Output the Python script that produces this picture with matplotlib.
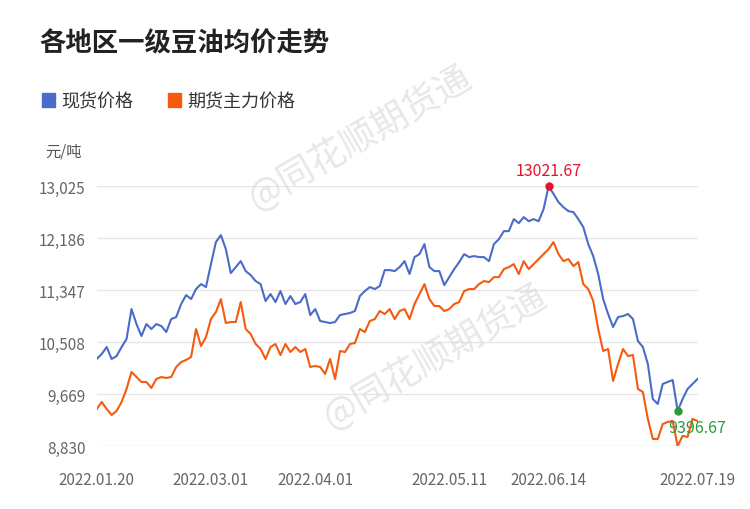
import matplotlib
matplotlib.use('Agg')
import matplotlib.pyplot as plt
import matplotlib.patches as mpatch

plt.rcParams['font.family'] = ['Noto Sans CJK SC', 'DejaVu Sans']

# 现货价格 (spot), one value per trading day
spot = [10235, 10315, 10428, 10235, 10283, 10428, 10557, 11041, 10799, 10606,
        10799, 10719, 10799, 10767, 10670, 10880, 10912, 11122, 11267, 11202,
        11364, 11444, 11396, 11767, 12122, 12235, 12009, 11622, 11718, 11815,
        11654, 11590, 11493, 11444, 11170, 11283, 11154, 11332, 11122, 11251,
        11122, 11154, 11283, 10944, 11041, 10848, 10832, 10815, 10832, 10944,
        10961, 10977, 11009, 11251, 11332, 11396, 11364, 11412, 11670, 11670,
        11654, 11718, 11815, 11606, 11880, 11928, 12090, 11718, 11654, 11654,
        11428, 11557, 11686, 11799, 11928, 11880, 11896, 11880, 11880, 11815,
        12090, 12170, 12299, 12299, 12493, 12428, 12525, 12460, 12493, 12460,
        12654, 13021.67, 12900, 12767, 12686, 12622, 12606, 12493, 12364, 12090,
        11896, 11606, 11202, 10961, 10751, 10912, 10928, 10961, 10880, 10525,
        10428, 10154, 9589, 9509, 9832, 9864, 9896, 9396.67, 9589, 9751,
        9832, 9912]
# 期货主力价格 (futures main contract)
futures = [9428, 9541, 9428, 9331, 9396, 9541, 9751, 10025, 9944, 9864,
           9864, 9767, 9912, 9944, 9928, 9944, 10106, 10186, 10219, 10267,
           10719, 10444, 10589, 10880, 10993, 11202, 10815, 10832, 10832, 11154,
           10719, 10638, 10477, 10396, 10235, 10428, 10477, 10299, 10477, 10348,
           10428, 10348, 10396, 10106, 10122, 10106, 9993, 10235, 9912, 10364,
           10348, 10477, 10493, 10719, 10670, 10848, 10880, 11009, 10961, 11041,
           10880, 11009, 11041, 10880, 11122, 11283, 11444, 11202, 11090, 11090,
           11009, 11041, 11122, 11154, 11332, 11364, 11364, 11444, 11493, 11477,
           11557, 11557, 11686, 11718, 11767, 11606, 11815, 11686, 11767, 11848,
           11928, 12009, 12122, 11928, 11815, 11848, 11734, 11799, 11444, 11364,
           11170, 10719, 10364, 10396, 9880, 10154, 10396, 10283, 10299, 9751,
           9702, 9267, 8944, 8944, 9186, 9218, 9235, 8831, 8993, 8977,
           9267, 9235]

tick_idx = [0, 23, 44, 71, 91, 121]
tick_labels = ['2022.01.20', '2022.03.01', '2022.04.01', '2022.05.11', '2022.06.14', '2022.07.19']
y_ticks = [8830, 9669, 10508, 11347, 12186, 13025]

BLUE = '#4a6cc8'
ORANGE = '#f45b0f'

fig = plt.figure(figsize=(7.5, 5.1), dpi=100)
ax = fig.add_axes([0.129, 0.1235, 0.801, 0.5095])
x = range(len(spot))
ax.plot(x, spot, color=BLUE, lw=1.5)
ax.plot(x, futures, color=ORANGE, lw=1.5)

imax = spot.index(max(spot))
imin = spot.index(min(spot))
ax.plot(imax, spot[imax], 'o', color='#e8102a', ms=5, clip_on=False)
ax.text(imax, spot[imax] + 120, '%.2f' % spot[imax], color='#e8102a',
        ha='center', va='bottom', fontsize=11.5)
ax.plot(imin, spot[imin], 'o', color='#2a9a3a', ms=5, clip_on=False)
ax.text(imin + 4, spot[imin] - 130, '%.2f' % spot[imin], color='#2a9a3a',
        ha='center', va='top', fontsize=11.5)

ax.set_xlim(0, len(spot) - 1)
ax.set_ylim(8830, 13025)
ax.set_yticks(y_ticks)
ax.set_yticklabels(['{:,}'.format(v) for v in y_ticks])
ax.set_xticks(tick_idx)
ax.set_xticklabels(tick_labels)
ax.tick_params(length=0, colors='#666666', labelsize=11, pad=8)
ax.tick_params(axis='x', pad=18)
ax.grid(axis='y', color='#e6e6e6', lw=1)
for s in ax.spines.values():
    s.set_visible(False)

fig.text(0.053, 0.9, '各地区一级豆油均价走势', fontsize=19, fontweight='bold', color='#222222')
for xx, col, lab in [(0.056, BLUE, '现货价格'), (0.224, ORANGE, '期货主力价格')]:
    fig.patches.append(mpatch.Rectangle((xx, 0.788), 0.017, 0.027, color=col,
                                        transform=fig.transFigure))
    fig.text(xx + 0.026, 0.8, lab, fontsize=13, va='center', color='#333333')
fig.text(0.06, 0.693, '元/吨', fontsize=11, color='#555555')

for wx, wy in [(0.48, 0.73), (0.58, 0.3)]:
    fig.text(wx, wy, '@同花顺期货通', fontsize=26, color='#d8d8d8', alpha=0.6,
             rotation=30, ha='center', va='center')

fig.savefig('out.png', dpi=100)
